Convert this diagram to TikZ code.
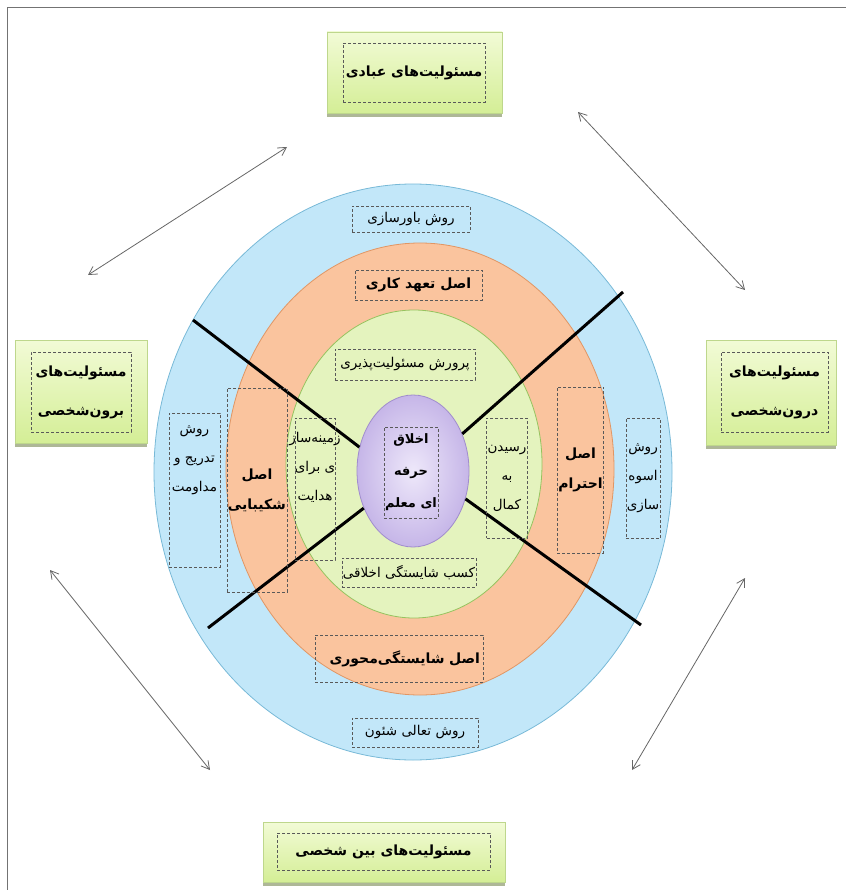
\documentclass[tikz,border=0pt]{standalone}
\usepackage{fontspec}
\newfontfamily\arabicfont[Script=Arabic]{DejaVu Sans}
\TeXXeTstate=1
\usetikzlibrary{shapes.geometric, arrows.meta, shadows}
\definecolor{ringBlue}{RGB}{194,231,249}
\definecolor{ringBlueEdge}{RGB}{120,185,215}
\definecolor{ringOrange}{RGB}{250,196,158}
\definecolor{ringOrangeEdge}{RGB}{225,150,100}
\definecolor{ringGreen}{RGB}{228,243,190}
\definecolor{ringGreenEdge}{RGB}{150,195,95}
\definecolor{coreIn}{RGB}{238,232,250}
\definecolor{coreOut}{RGB}{198,182,232}
\definecolor{coreEdge}{RGB}{160,140,205}
\definecolor{respTop}{RGB}{242,251,214}
\definecolor{respBot}{RGB}{212,238,150}
\definecolor{respEdge}{RGB}{190,215,140}
\definecolor{respShadow}{RGB}{165,175,140}
\tikzset{
ring/.style={ellipse, line width=0.8pt},
dbox/.style={draw=black!65, densely dashed, line width=0.5pt, inner sep=1pt},
resp/.style={rectangle, top color=respTop, bottom color=respBot, draw=respEdge, line width=0.4pt,
  drop shadow={shadow xshift=0pt, shadow yshift=-4pt, fill=respShadow, opacity=0.9}},
txt/.style={font=\arabicfont\fontsize{13.5}{29}\selectfont, align=center},
core text/.style={font=\arabicfont\bfseries\fontsize{13}{32}\selectfont, align=center},
bold/.style={font=\arabicfont\bfseries\fontsize{14}{30}\selectfont, align=center},
outer/.style={font=\arabicfont\bfseries\fontsize{14}{39}\selectfont, align=center},
twoway/.style={{Straight Barb[length=8pt,width=9pt]}-{Straight Barb[length=8pt,width=9pt]}, draw=black!60, line width=0.8pt},
cut/.style={line width=3pt, black},
frame/.style={draw=black!55, line width=1pt},
}
\newcommand{\fa}[1]{\beginR #1\endR}

\begin{document}
\begin{tikzpicture}[x=1pt, y=-1pt]
\useasboundingbox (0,0) rectangle (846,890);
\draw[frame] (7.5,890) -- (7.5,7.5) -- (846,7.5);

% rings
\node[ring, fill=ringBlue, draw=ringBlueEdge, minimum width=518, minimum height=576] (blu) at (413,472) {};
\node[ring, fill=ringOrange, draw=ringOrangeEdge, minimum width=388, minimum height=452] (org) at (420,469) {};
\node[ring, fill=ringGreen, draw=ringGreenEdge, minimum width=256, minimum height=308] (grn) at (414,464) {};
\node[ring, inner color=coreIn, outer color=coreOut, draw=coreEdge, minimum width=112, minimum height=152] (core) at (413,471) {};

% the four cuts
\coordinate (cutul) at (193,320);
\coordinate (cutur) at (623,292);
\coordinate (cutll) at (208,628);
\coordinate (cutlr) at (641,625);
\draw[cut] (cutul) -- (core.156);
\draw[cut] (cutur) -- (core.37);
\draw[cut] (cutll) -- (core.217);
\draw[cut] (cutlr) -- (core.332);

% labels inside the rings
\node[dbox, txt, minimum width=118, minimum height=26] (bav) at (411,219) {\fa{روش باورسازی}};
\node[dbox, bold, minimum width=127, minimum height=30] (tah) at (418.5,285) {\fa{اصل تعهد کاری}};
\node[dbox, txt, minimum width=140, minimum height=31] (par) at (405,364.5) {\fa{پرورش مسئولیت‌پذیری}};
\node[dbox, core text, minimum width=48, minimum height=91] (ctr) at (411,472.5) {\fa{اخلاق}\\\fa{حرفه}\\\fa{ای معلم}};
\node[dbox, minimum width=40, minimum height=142] (zam) at (315,489) {};
\node[txt] (zamt) at (315,467) {\fa{زمینه‌ساز}\\\fa{ی برای}\\\fa{هدایت}};
\node[dbox, txt, minimum width=40, minimum height=120] (ras) at (507,478) {\fa{رسیدن}\\\fa{به}\\\fa{کمال}};
\node[dbox, txt, minimum width=128, minimum height=29] (kas) at (409,572.5) {\fa{کسب شایستگی اخلاقی}};
\node[dbox, bold, align=right, text width=162, minimum width=168, minimum height=47] (sha) at (399,658.5) {\fa{اصل شایستگی‌محوری}};
\node[dbox, txt, minimum width=126, minimum height=29] (taa) at (415,732.5) {\fa{روش تعالی شئون}};
\node[dbox, bold, minimum width=50, minimum height=204] (sab) at (257,490) {\fa{اصل}\\\fa{شکیبایی}};
\node[dbox, minimum width=51, minimum height=154] (tdr) at (194.5,490) {};
\node[txt] (tdrt) at (194.5,460) {\fa{روش}\\\fa{تدریج و}\\\fa{مداومت}};
\node[dbox, bold, minimum width=45, minimum height=166] (eht) at (580.5,470) {\fa{اصل}\\\fa{احترام}};
\node[dbox, txt, minimum width=32, minimum height=120] (osv) at (643,478) {\fa{روش}\\\fa{اسوه}\\\fa{سازی}};

% the four responsibilities
\node[resp, minimum width=175, minimum height=81] (ibd) at (414.5,72.5) {};
\node[dbox, outer, minimum width=142, minimum height=59] (ibdt) at (414,72.5) {\fa{مسئولیت‌های عبادی}};
\node[resp, minimum width=132, minimum height=103] (brn) at (81,391.5) {};
\node[dbox, outer, minimum width=100, minimum height=80] (brnt) at (81,392) {\fa{مسئولیت‌های}\\\fa{برون‌شخصی}};
\node[resp, minimum width=130, minimum height=105] (drn) at (771,392.5) {};
\node[dbox, outer, minimum width=107, minimum height=80] (drnt) at (774.5,392) {\fa{مسئولیت‌های}\\\fa{درون‌شخصی}};
\node[resp, minimum width=242, minimum height=60] (bin) at (384,852) {};
\node[dbox, outer, minimum width=213, minimum height=37] (bint) at (383.5,851.5) {\fa{مسئولیت‌های بین شخصی}};

% arrows
\coordinate (a1s) at (88,275);  \coordinate (a1e) at (287,147);
\coordinate (a2s) at (578,112); \coordinate (a2e) at (745,290);
\coordinate (a3s) at (50,570);  \coordinate (a3e) at (210,770);
\coordinate (a4s) at (745,578); \coordinate (a4e) at (632,770);
\draw[twoway] (a1s) -- (a1e);
\draw[twoway] (a2s) -- (a2e);
\draw[twoway] (a3s) -- (a3e);
\draw[twoway] (a4s) -- (a4e);
\end{tikzpicture}
\end{document}
